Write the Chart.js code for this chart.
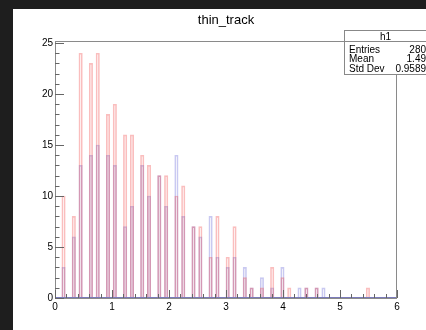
<!DOCTYPE html>
<html>
<head>
<meta charset="utf-8">
<script src="https://cdn.jsdelivr.net/npm/chart.js@4.4.1/dist/chart.umd.min.js"></script>
<style>
  html, body { margin: 0; padding: 0; background: #1e1e1e; }
  #c { display: block; }
</style>
</head>
<body>
<canvas id="c" width="426" height="330"></canvas>
<script>
// histogram definition (100 bins from 0 to 6)
var histTitle = 'thin_track';
var nBins = 100, xMin = 0, xMax = 6;
// bins that have entries, and their counts for the two histograms
var filledBins = [2, 5, 7, 10, 12, 15, 17, 20, 22, 25, 27, 30, 32, 35, 37, 40,
                  42, 45, 47, 50, 52, 55, 57, 60, 63, 66, 68, 71, 73, 76, 78, 91];
var redCounts  = [10, 8, 24, 23, 24, 18, 19, 16, 16, 14, 13, 12, 12, 10, 11, 7,
                  7, 4, 8, 4, 7, 2, 1, 1, 3, 2, 1, 0, 1, 1, 0, 1];
var blueCounts = [3, 6, 13, 14, 15, 14, 13, 7, 9, 13, 10, 12, 9, 14, 8, 7,
                  6, 8, 4, 3, 4, 3, 1, 2, 1, 3, 0, 1, 1, 1, 1, 0];
var xTickValues = [0, 1, 2, 3, 4, 5, 6];
var yTickValues = [0, 5, 10, 15, 20, 25];
var yMax = 25.2;
var statsName = 'h1';
var statsLabels = ['Entries', 'Mean', 'Std Dev'];
var statsValues = ['280', '1.49', '0.9589'];

function fillBins(counts) {
  var out = [];
  for (var i = 0; i < nBins; i++) out.push(null);
  for (var j = 0; j < filledBins.length; j++) {
    if (counts[j] > 0) out[filledBins[j]] = counts[j];
  }
  return out;
}

var binLabels = [];
for (var b = 0; b < nBins; b++) binLabels.push(String(b));

var FONT = "'Liberation Sans', Arial, Helvetica, sans-serif";
Chart.defaults.font.family = FONT;
Chart.defaults.color = '#000';

var rootStyle = {
  id: 'rootStyle',
  beforeDraw: function (chart) {
    var ctx = chart.ctx;
    ctx.save();
    ctx.fillStyle = '#1e1e1e';
    ctx.fillRect(0, 0, chart.width, chart.height);
    ctx.fillStyle = '#ffffff';
    ctx.fillRect(13, 9, chart.width - 13, chart.height - 9);
    ctx.restore();
  },
  afterDatasetsDraw: function (chart) {
    var ctx = chart.ctx, a = chart.chartArea;
    var xs = chart.scales.x2, ys = chart.scales.y;
    ctx.save();
    // baseline of the histograms
    ctx.strokeStyle = '#7b7bbb';
    ctx.lineWidth = 1;
    ctx.beginPath();
    ctx.moveTo(a.left, a.bottom - 0.5);
    ctx.lineTo(a.right, a.bottom - 0.5);
    ctx.stroke();
    // frame
    ctx.strokeStyle = '#8a8a8a';
    ctx.strokeRect(a.left + 0.5, a.top + 0.5, a.right - a.left - 1, a.bottom - a.top);
    // ticks, drawn inside the frame like ROOT
    ctx.strokeStyle = '#666';
    ctx.beginPath();
    var i, j, v, p;
    for (i = 0; i < xTickValues.length; i++) {
      p = Math.round(xs.getPixelForValue(xTickValues[i])) + 0.5;
      ctx.moveTo(p, a.bottom); ctx.lineTo(p, a.bottom - 8);
      if (i < xTickValues.length - 1) {
        for (j = 1; j < 5; j++) {
          v = xTickValues[i] + j * (xTickValues[i + 1] - xTickValues[i]) / 5;
          p = Math.round(xs.getPixelForValue(v)) + 0.5;
          ctx.moveTo(p, a.bottom); ctx.lineTo(p, a.bottom - 4);
        }
      }
    }
    for (i = 0; i < yTickValues.length; i++) {
      p = Math.round(ys.getPixelForValue(yTickValues[i])) + 0.5;
      ctx.moveTo(a.left, p); ctx.lineTo(a.left + 9, p);
      if (i < yTickValues.length - 1) {
        for (j = 1; j < 5; j++) {
          v = yTickValues[i] + j * (yTickValues[i + 1] - yTickValues[i]) / 5;
          p = Math.round(ys.getPixelForValue(v)) + 0.5;
          ctx.moveTo(a.left, p); ctx.lineTo(a.left + 4.5, p);
        }
      }
    }
    ctx.stroke();
    ctx.restore();
  },
  afterDraw: function (chart) {
    var ctx = chart.ctx;
    ctx.save();
    // title
    ctx.fillStyle = '#000';
    ctx.font = '13px ' + FONT;
    ctx.textAlign = 'center';
    ctx.textBaseline = 'alphabetic';
    ctx.fillText(histTitle, 226, 23.5);
    // stats box
    var bx = 344.5, by = 30.5, bw = 90, bh = 44;
    ctx.fillStyle = '#fff';
    ctx.fillRect(bx, by, bw, bh);
    ctx.strokeStyle = '#888';
    ctx.lineWidth = 1;
    ctx.strokeRect(bx, by, bw, bh);
    ctx.beginPath();
    ctx.moveTo(bx, 41.5); ctx.lineTo(bx + bw, 41.5);
    ctx.stroke();
    ctx.fillStyle = '#000';
    ctx.font = '10px ' + FONT;
    ctx.textAlign = 'center';
    ctx.fillText(statsName, 385.5, 39.5);
    var rows = [52.5, 62, 71.5];
    for (var r = 0; r < statsLabels.length; r++) {
      ctx.textAlign = 'left';
      ctx.fillText(statsLabels[r], 349, rows[r]);
      ctx.textAlign = 'right';
      ctx.fillText(statsValues[r], 426, rows[r]);
    }
    ctx.restore();
  }
};

new Chart(document.getElementById('c'), {
  type: 'bar',
  data: {
    labels: binLabels,
    datasets: [
      {
        label: 'thin_track',
        data: fillBins(redCounts),
        backgroundColor: 'rgba(0,0,0,0)',
        borderColor: 'rgba(240,40,40,0.3)',
        borderWidth: 1,
        borderSkipped: 'bottom',
        xAxisID: 'x'
      },
      {
        label: 'thin_track 2',
        data: fillBins(blueCounts),
        backgroundColor: 'rgba(0,0,0,0)',
        borderColor: 'rgba(40,40,200,0.25)',
        borderWidth: 1,
        borderSkipped: 'bottom',
        xAxisID: 'x'
      }
    ]
  },
  options: {
    responsive: false,
    animation: false,
    grouped: false,
    barPercentage: 1,
    categoryPercentage: 1,
    layout: { padding: { left: 0, right: 29, top: 41, bottom: 0 } },
    plugins: { legend: { display: false }, tooltip: { enabled: false }, title: { display: false } },
    scales: {
      x: { type: 'category', display: false, offset: true },
      x2: {
        type: 'linear', axis: 'x', position: 'bottom', offset: false,
        min: xMin, max: xMax,
        grid: { display: false, drawTicks: false, offset: false },
        border: { display: false },
        ticks: { stepSize: 1, padding: 3, maxRotation: 0, font: { size: 10 }, color: '#000' },
        afterFit: function (s) { s.height = 32; }
      },
      y: {
        type: 'linear', min: 0, max: yMax,
        grid: { display: false, drawTicks: false },
        border: { display: false },
        ticks: { stepSize: 5, includeBounds: false, padding: 2, font: { size: 10 }, color: '#000' },
        afterFit: function (s) { s.width = 55; }
      }
    }
  },
  plugins: [rootStyle]
});
</script>
</body>
</html>
